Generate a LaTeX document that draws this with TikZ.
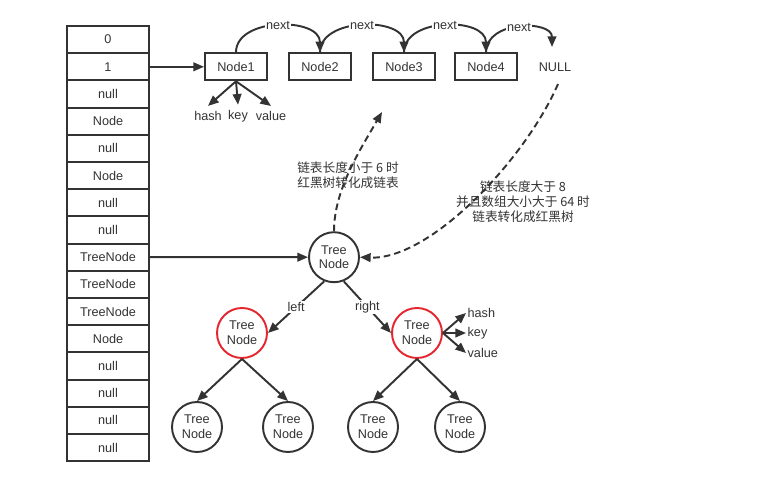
\documentclass[tikz,border=0pt]{standalone}
\usepackage{fontspec}
\setmainfont{Liberation Sans}
\newfontfamily\cjk{Noto Sans CJK SC}
\usetikzlibrary{arrows.meta}
\definecolor{ink}{HTML}{333333}
\definecolor{redline}{HTML}{E5262E}

\begin{document}
\begin{tikzpicture}[x=0.75pt,y=-0.75pt,font=\fontsize{9.5}{11}\selectfont,text=ink,
    line width=1.45pt,
    arr/.style={draw=ink,-{Triangle[length=8pt,width=6.5pt]}},
    cell/.style={draw=ink,minimum width=61.5pt,minimum height=20.4pt,inner sep=0pt},
    box/.style={draw=ink,minimum width=46.5pt,minimum height=20.25pt,inner sep=0pt},
    tnode/.style={circle,draw=ink,minimum size=37.5pt,inner sep=0pt,align=center,
      font=\fontsize{9.5}{11}\selectfont},
    rnode/.style={tnode,draw=redline},
    lbl/.style={fill=white,inner sep=1pt}]
  \useasboundingbox (0,0) rectangle (767,477);

  % the table
  \foreach \lab [count=\i from 0] in {0,1,null,Node,null,Node,null,null,TreeNode,TreeNode,TreeNode,Node,null,null,null,null}
    \node[cell] (c\i) at (108,39.6+27.2*\i) {\lab};

  % linked list
  \node[box] (n1) at (236,66.8) {Node1};
  \node[box] (n2) at (320,66.8) {Node2};
  \node[box] (n3) at (404,66.8) {Node3};
  \node[box] (n4) at (486,66.8) {Node4};
  \node (null) at (555,67) {NULL};
  \coordinate (nulltop) at (552,47);
  \coordinate (nullbot) at (558,84);
  \draw[arr] (c1.east) -- (n1.west);
  \draw[arr] (n1.north) .. controls (236,17) and (320,17) .. node[lbl] {next} (n2.north);
  \draw[arr] (n2.north) .. controls (320,17) and (404,17) .. node[lbl] {next} (n3.north);
  \draw[arr] (n3.north) .. controls (404,17) and (486,17) .. node[lbl] {next} (n4.north);
  \draw[arr] (n4.north) .. controls (486,20) and (552,20) .. node[lbl] {next} (nulltop);

  \node (h1) at (208,116) {hash};
  \node (k1) at (238,116) {key};
  \node (v1) at (271,116) {value};
  \draw[arr] (n1.south) -- (h1.north);
  \draw[arr] (n1.south) -- (k1.north);
  \draw[arr] (n1.south) -- (v1.north);

  % red-black tree
  \node[tnode] (r) at (334,257.2) {Tree\\Node};
  \node[rnode] (l) at (242,333) {Tree\\Node};
  \node[rnode] (rr) at (417,333) {Tree\\Node};
  \node[tnode] (ll) at (197,427) {Tree\\Node};
  \node[tnode] (lr) at (288,427) {Tree\\Node};
  \node[tnode] (rl) at (373,427) {Tree\\Node};
  \node[tnode] (rrr) at (460,427) {Tree\\Node};
  \draw[arr] (c8.east) -- (r.west);
  \draw[arr] (r.-112) -- node[lbl] {left} (l.east);
  \draw[arr] (r.-68) -- node[lbl] {right} (rr.west);
  \draw[arr] (l.south) -- (ll.north);
  \draw[arr] (l.south) -- (lr.north);
  \draw[arr] (rr.south) -- (rl.north);
  \draw[arr] (rr.south) -- (rrr.north);

  \node[anchor=west,inner sep=0.5pt] (h2) at (466,313) {hash};
  \node[anchor=west,inner sep=0.5pt] (k2) at (466,333) {key};
  \node[anchor=west,inner sep=0.5pt] (v2) at (466,353) {value};
  \draw[arr] (rr.east) -- (h2.west);
  \draw[arr] (rr.east) -- (k2.west);
  \draw[arr] (rr.east) -- (v2.west);

  % conversions
  \coordinate (up) at (382,112);
  \draw[arr,dash pattern=on 5pt off 3pt] (r.north) .. controls (334,190) and (360,150) .. (up);
  \draw[arr,dash pattern=on 5pt off 3pt] (nullbot) .. controls (525,160) and (430,260) .. (r.east);
  \node[align=center,font=\cjk\fontsize{9.5}{11.25}\selectfont] (t1) at (348,175) {链表长度小于 6 时\\红黑树转化成链表};
  \node[align=center,font=\cjk\fontsize{9.5}{11.25}\selectfont] (t2) at (523,202) {链表长度大于 8\\并且数组大小大于 64 时\\链表转化成红黑树};
\end{tikzpicture}
\end{document}
